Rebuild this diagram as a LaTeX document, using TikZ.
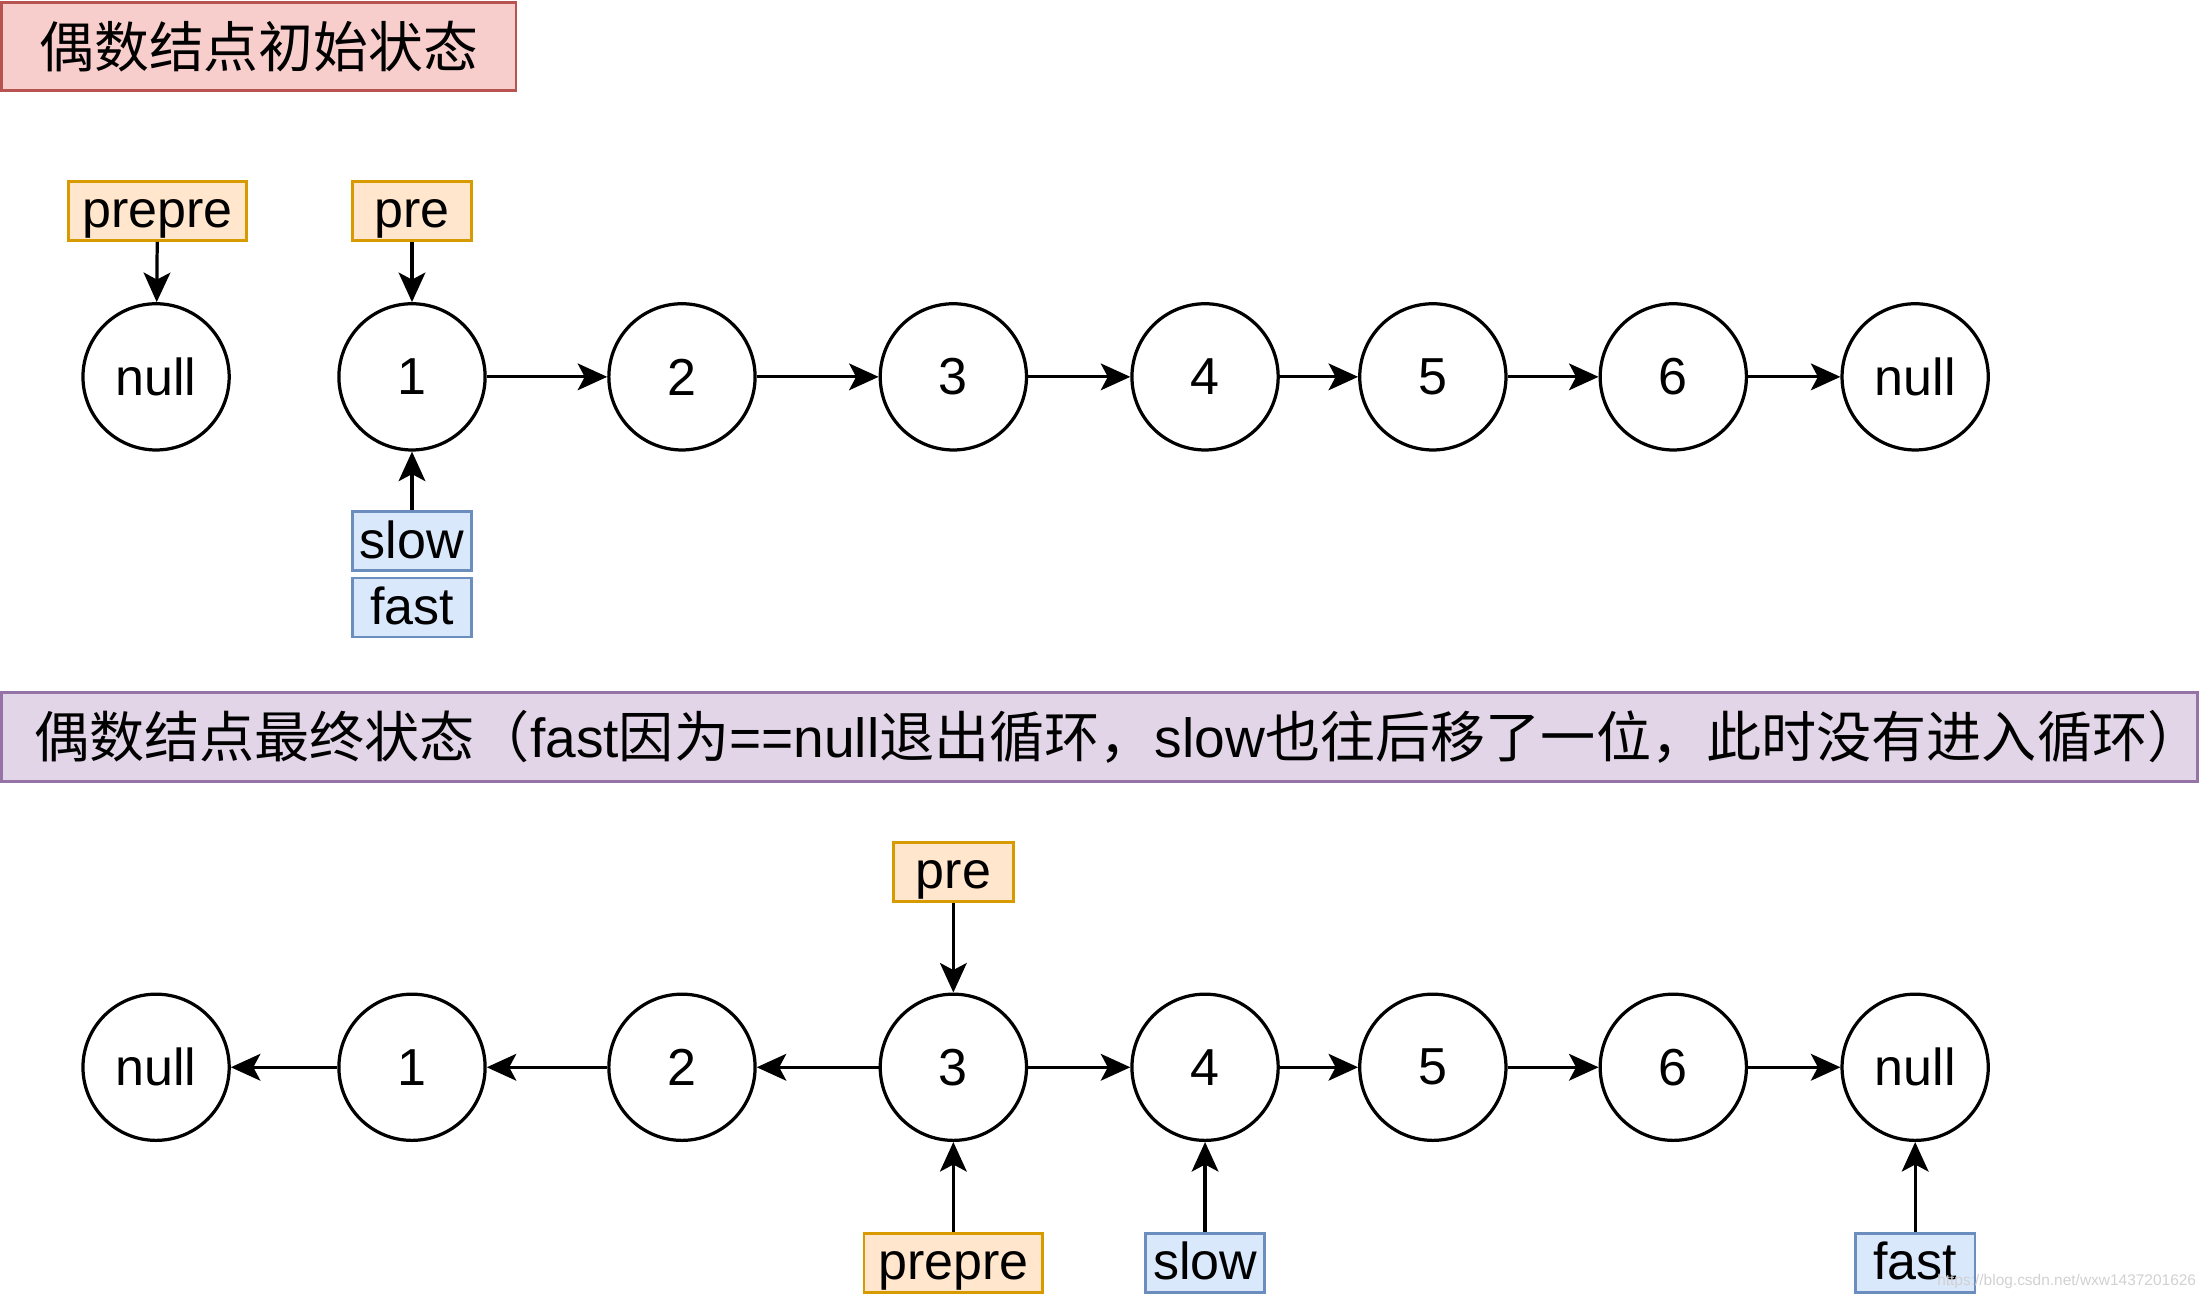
\documentclass[tikz,border=0pt]{standalone}
\usepackage{fontspec}
\setmainfont{Liberation Sans}
\newfontfamily\cjk{Noto Sans CJK SC}
\usetikzlibrary{arrows.meta}
\definecolor{orline}{HTML}{D79B00}
\definecolor{orfill}{HTML}{FFE6CC}
\definecolor{blline}{HTML}{6C8EBF}
\definecolor{blfill}{HTML}{DAE8FC}
\definecolor{rdline}{HTML}{B85450}
\definecolor{rdfill}{HTML}{F8CECC}
\definecolor{puline}{HTML}{9673A6}
\definecolor{pufill}{HTML}{E1D5E7}
\begin{document}
\begin{tikzpicture}[x=1pt,y=-1pt,
  every node/.style={font=\fontsize{37}{44}\selectfont},
  lnode/.style={circle,draw,line width=2.3pt,minimum size=104pt,inner sep=0pt},
  orbox/.style={draw=orline,fill=orfill,line width=2pt,minimum height=42pt,inner sep=0pt,text height=30pt,text depth=6pt},
  blbox/.style={draw=blline,fill=blfill,line width=2pt,minimum height=42pt,inner sep=0pt,text height=30pt,text depth=6pt},
  link/.style={line width=2.3pt,-{Stealth[length=21pt,width=19pt,inset=5pt]}}
]
\useasboundingbox (0,0) rectangle (1566,922);
% titles
\node[draw=rdline,fill=rdfill,line width=2pt,minimum width=366pt,minimum height=63pt,inner sep=0pt,font=\fontsize{39}{46}\selectfont] (t1) at (184,33) {\cjk 偶数结点初始状态};
\node[draw=puline,fill=pufill,line width=2pt,minimum width=1562pt,minimum height=63pt,inner sep=0pt] (t2) at (782,524) {};
\node[anchor=west,inner sep=0pt,font=\fontsize{39.2}{46}\selectfont] (t2txt) at (24,524) {\cjk 偶数结点最终状态（\textrm{\fontspec{Liberation Sans}fast}因为\textrm{\fontspec{Liberation Sans}==null}退出循环，\textrm{\fontspec{Liberation Sans}slow}也往后移了一位，此时没有进入循环）};
% row 1
\node[lnode] (an) at (111,268) {null};
\node[lnode] (a1) at (293,268) {1};
\node[lnode] (a2) at (485,268) {2};
\node[lnode] (a3) at (678,268) {3};
\node[lnode] (a4) at (857,268) {4};
\node[lnode] (a5) at (1019,268) {5};
\node[lnode] (a6) at (1190,268) {6};
\node[lnode] (ae) at (1362,268) {null};
\draw[link] (a1) -- (a2);
\draw[link] (a2) -- (a3);
\draw[link] (a3) -- (a4);
\draw[link] (a4) -- (a5);
\draw[link] (a5) -- (a6);
\draw[link] (a6) -- (ae);
\node[orbox,minimum width=127pt] (pp1) at (112,150) {prepre};
\node[orbox,minimum width=85pt] (p1) at (293,150) {pre};
\node[blbox,minimum width=85pt] (s1) at (293,385) {slow};
\node[blbox,minimum width=85pt] (f1) at (293,432) {fast};
\draw[link] (pp1) -- (an);
\draw[link] (p1) -- (a1);
\draw[link] (s1) -- (a1);
% row 2
\node[lnode] (bn) at (111,759) {null};
\node[lnode] (b1) at (293,759) {1};
\node[lnode] (b2) at (485,759) {2};
\node[lnode] (b3) at (678,759) {3};
\node[lnode] (b4) at (857,759) {4};
\node[lnode] (b5) at (1019,759) {5};
\node[lnode] (b6) at (1190,759) {6};
\node[lnode] (be) at (1362,759) {null};
\draw[link] (b1) -- (bn);
\draw[link] (b2) -- (b1);
\draw[link] (b3) -- (b2);
\draw[link] (b3) -- (b4);
\draw[link] (b4) -- (b5);
\draw[link] (b5) -- (b6);
\draw[link] (b6) -- (be);
\node[orbox,minimum width=85pt] (p2) at (678,620) {pre};
\node[orbox,minimum width=127pt] (pp2) at (678,898) {prepre};
\node[blbox,minimum width=85pt] (s2) at (857,898) {slow};
\node[blbox,minimum width=85pt] (f2) at (1362,898) {fast};
\draw[link] (p2) -- (b3);
\draw[link] (pp2) -- (b3);
\draw[link] (s2) -- (b4);
\draw[link] (f2) -- (be);
\node[anchor=east,inner sep=0pt,text=black!18,font=\fontsize{11}{13}\selectfont] (wm) at (1562,911) {https://blog.csdn.net/wxw1437201626};
\end{tikzpicture}
\end{document}
